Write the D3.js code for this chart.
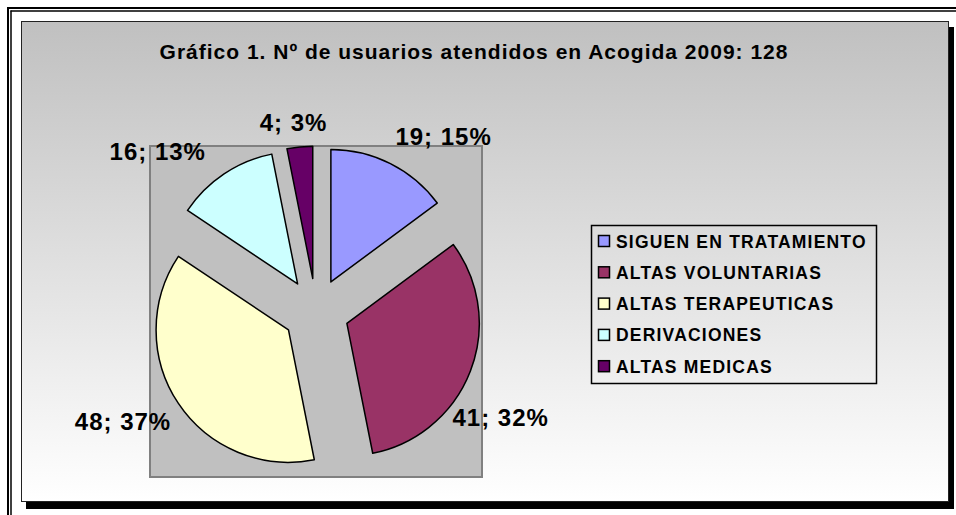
<!DOCTYPE html>
<html>
<head>
<meta charset="utf-8">
<script src="https://d3js.org/d3.v7.min.js"></script>
<style>
  body { margin: 0; background: #fff; }
  text { font-family: "Liberation Sans", Arial, sans-serif; font-weight: bold; fill: #000; }
</style>
</head>
<body>
<div id="chart"></div>
<script>
// data
var categories = ["SIGUEN EN TRATAMIENTO", "ALTAS VOLUNTARIAS", "ALTAS TERAPEUTICAS", "DERIVACIONES", "ALTAS MEDICAS"];
var counts = [19, 41, 48, 16, 4];
var percents = [15, 32, 37, 13, 3];
var colors = ["#9999FF", "#993366", "#FFFFCC", "#CCFFFF", "#660066"];
var title = "Gráfico 1. Nº de usuarios atendidos en Acogida 2009: 128";

var W = 956, H = 515;
var chartBox = {x: 21, y: 21, w: 927, h: 480};
var plotBox = {x: 150, y: 146, w: 332, h: 331};
var explode = 0.25;
// hand tweaks so labels sit where Excel left them
var labelNudge = [[27, -8], [-24, 39], [-7, 6], [-34, -5], [-2, -3]];

var svg = d3.select("#chart").append("svg")
    .attr("width", W).attr("height", H);

var defs = svg.append("defs");
var grad = defs.append("linearGradient")
    .attr("id", "bg").attr("x1", 0).attr("y1", 0).attr("x2", 0).attr("y2", 1);
grad.append("stop").attr("offset", "0%").attr("stop-color", "#c0c0c0");
grad.append("stop").attr("offset", "100%").attr("stop-color", "#ffffff");

// page frame (double line top / left)
svg.append("line").attr("x1", 7).attr("x2", W).attr("y1", 8).attr("y2", 8)
    .attr("stroke", "#000").attr("stroke-width", 2);
svg.append("line").attr("x1", 10.5).attr("x2", W).attr("y1", 11).attr("y2", 11)
    .attr("stroke", "#000").attr("stroke-width", 1.5);
svg.append("line").attr("x1", 8).attr("x2", 8).attr("y1", 7).attr("y2", H)
    .attr("stroke", "#000").attr("stroke-width", 2);
svg.append("line").attr("x1", 11).attr("x2", 11).attr("y1", 10.5).attr("y2", H)
    .attr("stroke", "#000").attr("stroke-width", 1.5);

// chart area with shadow
svg.append("rect")
    .attr("x", chartBox.x + 5).attr("y", chartBox.y + 6)
    .attr("width", chartBox.w + 1).attr("height", chartBox.h + 2)
    .attr("fill", "#000");
svg.append("rect")
    .attr("x", chartBox.x + 0.5).attr("y", chartBox.y + 0.5)
    .attr("width", chartBox.w).attr("height", chartBox.h)
    .attr("fill", "url(#bg)").attr("stroke", "#222").attr("stroke-width", 1);

svg.append("text")
    .attr("x", 474).attr("y", 59)
    .attr("text-anchor", "middle")
    .style("font-size", "21px")
    .style("letter-spacing", "1px")
    .text(title);

// plot area
svg.append("rect")
    .attr("x", plotBox.x).attr("y", plotBox.y)
    .attr("width", plotBox.w).attr("height", plotBox.h)
    .attr("fill", "#c0c0c0").attr("stroke", "#808080").attr("stroke-width", 2);

var cx = plotBox.x + plotBox.w / 2,
    cy = plotBox.y + plotBox.h / 2;
var radius = (Math.min(plotBox.w, plotBox.h) / 2) / (1 + explode);
var off = radius * explode;

var pie = d3.pie().sort(null).value(function(d) { return d; });
var arcs = pie(counts);
var arc = d3.arc().innerRadius(0).outerRadius(radius);

function mid(d) { return (d.startAngle + d.endAngle) / 2; }

var g = svg.append("g").attr("transform", "translate(" + cx + "," + cy + ")");

g.selectAll("path.slice")
    .data(arcs)
    .enter()
    .append("path")
        .attr("class", "slice")
        .attr("d", arc)
        .attr("transform", function(d) {
            var a = mid(d);
            return "translate(" + (off * Math.sin(a)) + "," + (-off * Math.cos(a)) + ")";
        })
        .attr("fill", function(d, i) { return colors[i]; })
        .attr("stroke", "#000")
        .attr("stroke-width", 1.5)
        .attr("stroke-linejoin", "round");

// data labels
var labels = g.selectAll("text.lbl")
    .data(arcs)
    .enter()
    .append("text")
        .attr("class", "lbl")
        .attr("text-anchor", "middle")
        .attr("dominant-baseline", "central")
        .style("font-size", "24px")
        .style("letter-spacing", "1px")
        .text(function(d, i) { return counts[i] + "; " + percents[i] + "%"; });

labels.each(function(d, i) {
    var a = mid(d);
    var w = this.getComputedTextLength(), h = 22;
    var r = off + radius + 10;
    var x = r * Math.sin(a) + Math.sin(a) * w / 2 + labelNudge[i][0];
    var y = -r * Math.cos(a) - Math.cos(a) * h / 2 + labelNudge[i][1];
    d3.select(this).attr("x", x).attr("y", y);
});

// legend
var legend = svg.append("g").attr("transform", "translate(591,225)");
legend.append("rect")
    .attr("x", 0.5).attr("y", 0.5).attr("width", 285).attr("height", 158)
    .attr("fill", "none").attr("stroke", "#000").attr("stroke-width", 1.5);

var rows = legend.selectAll("g.row")
    .data(categories)
    .enter()
    .append("g")
        .attr("class", "row")
        .attr("transform", function(d, i) { return "translate(0," + (16 + i * 31.3) + ")"; });

rows.append("rect")
    .attr("x", 7.5).attr("y", -5.5).attr("width", 11).attr("height", 11)
    .attr("fill", function(d, i) { return colors[i]; })
    .attr("stroke", "#000").attr("stroke-width", 1.5);

rows.append("text")
    .attr("x", 25)
    .attr("y", 6.5)
    .style("font-size", "17.5px")
    .style("letter-spacing", "1.2px")
    .text(function(d) { return d; });
</script>
</body>
</html>
